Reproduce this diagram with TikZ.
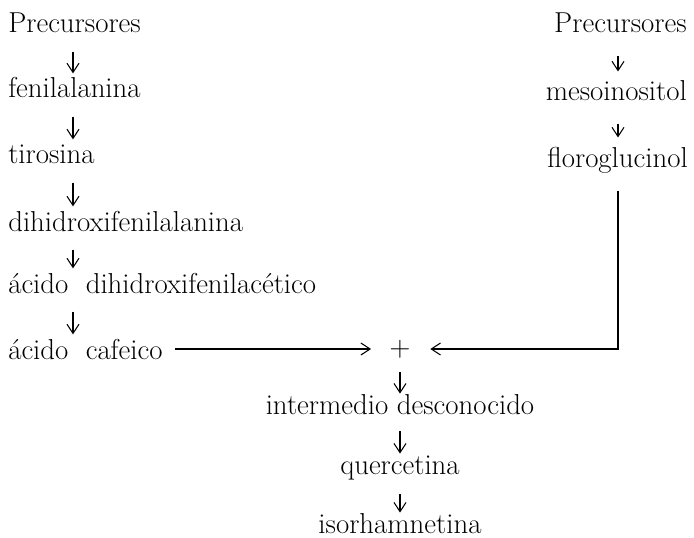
\documentclass[tikz,border=0pt]{standalone}
\usepackage{fontspec}
\usepackage{tikz}
\usetikzlibrary{arrows.meta}
\tikzset{
  compound/.style={inner sep=0pt,text height=14.3pt,text depth=0pt,
                   font=\fontsize{20.5}{24}\selectfont},
  plusnode/.style={inner sep=0pt,font=\fontsize{20.5}{24}\selectfont},
  flow/.style    ={-{Straight Barb[length=2.3mm,width=3mm]},line width=0.75pt,
                   shorten <=13pt,shorten >=3pt},
}

\begin{document}
\begin{tikzpicture}[x=0.025cm,y=-0.025cm]
  \useasboundingbox (0,0) rectangle (694,537);
  \coordinate (colA) at (73,0);
  \coordinate (colB) at (618,0);
  \coordinate (colC) at (400,0);
  % left branch
  \node[compound,anchor=base west] (preA) at (8,33) {Precursores};
  \node[compound,anchor=base west] (fenil) at (8,98) {fenilalanina};
  \node[compound,anchor=base west] (tiro) at (8,164) {tirosina};
  \node[compound,anchor=base west] (dopa) at (8,231) {dihidroxifenilalanina};
  \node[compound,anchor=base west] (acet) at (8,293) {ácido\ \ dihidroxifenilacético};
  \node[compound,anchor=base west] (cafe) at (8,359) {ácido\ \ cafeico};
  % right branch
  \node[compound,anchor=base east] (preB) at (687,33) {Precursores};
  \node[compound,anchor=base east] (meso) at (687,101) {mesoinositol};
  \node[compound,anchor=base east] (floro) at (688,167) {floroglucinol};
  % common trunk
  \node[plusnode] (plus) at (400,349) {+};
  \node[compound,anchor=base] (inter) at (400,414) {intermedio desconocido};
  \node[compound,anchor=base] (querc) at (400,474) {quercetina};
  \node[compound,anchor=base] (isorh) at (400,533) {isorhamnetina};

  \draw[flow] (preA.south -| colA) -- (fenil.north -| colA);
  \draw[flow] (fenil.south -| colA) -- (tiro.north -| colA);
  \draw[flow] (tiro.south -| colA) -- (dopa.north -| colA);
  \draw[flow] (dopa.south -| colA) -- (acet.north -| colA);
  \draw[flow] (acet.south -| colA) -- (cafe.north -| colA);
  \draw[flow,shorten <=16pt,shorten >=6.5pt] (preB.south -| colB) -- (meso.north -| colB);
  \draw[flow,shorten <=16pt,shorten >=6.5pt] (meso.south -| colB) -- (floro.north -| colB);
  \draw[flow,shorten <=9pt,shorten >=13pt] (cafe.east |- plus) -- (plus.west);
  \draw[flow,shorten <=17pt,shorten >=14pt] (floro.south -| colB) -- (colB |- plus) -- (plus.east);
  \draw[flow,shorten <=9.6pt,shorten >=0pt] (plus.south) -- (inter.north -| colC);
  \draw[flow,shorten <=12pt,shorten >=0pt] (inter.south -| colC) -- (querc.north -| colC);
  \draw[flow,shorten <=14pt,shorten >=0pt] (querc.south -| colC) -- (isorh.north -| colC);
\end{tikzpicture}
\end{document}
